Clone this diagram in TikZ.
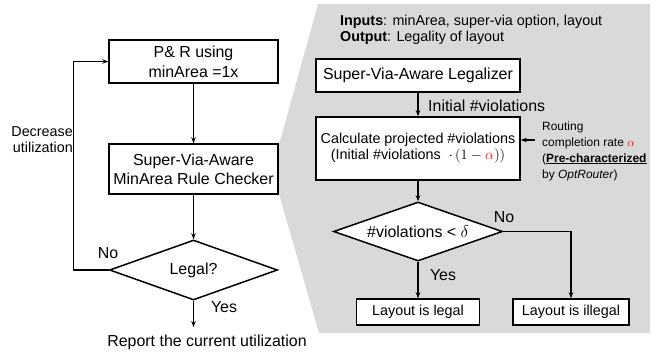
\documentclass[tikz,border=0pt]{standalone}
\usepackage{fontspec}
\setmainfont{Liberation Sans}
\usetikzlibrary{shapes.geometric,arrows.meta}
\definecolor{panelgray}{HTML}{D9D9D9}
\newcommand\szL{\fontsize{16}{19}\selectfont}
\newcommand\szLL{\fontsize{16}{20}\selectfont}
\newcommand\szM{\fontsize{14.4}{16}\selectfont}
\newcommand\szS{\fontsize{12}{16}\selectfont}
\begin{document}
\begin{tikzpicture}[x=1bp,y=-1bp,
  box/.style={draw, line width=1.5bp, fill=white, inner sep=0pt, align=center},
  dia/.style={diamond, draw, line width=1.5bp, fill=white, aspect=2.8, inner sep=0pt},
  arr/.style={-{Stealth[length=6bp,width=4.5bp]}, line width=1.3bp},
  lbl/.style={inner sep=0pt}]
\useasboundingbox (0,0) rectangle (661,351);
\fill[panelgray] (318,4) -- (650,4) -- (650,333) -- (319,333) -- (279,194) -- (279,145) -- cycle;

% left flow
\node[box, minimum width=169bp, minimum height=43bp, font=\szLL] (pr) at (193.5,61.5) {P\& R using\\minArea =1x};
\node[box, minimum width=169bp, minimum height=50bp, font=\szL] (chk) at (193.5,169) {Super-Via-Aware\\MinArea Rule Checker};
\node[dia, minimum width=168bp, minimum height=60bp, font=\szL] (lg) at (193.5,270) {Legal?};
\node[lbl, font=\szL] (rep) at (207,342) {Report the current utilization};
\coordinate (repin) at (193.5,327);
\draw[arr] (pr) -- (chk);
\draw[arr] (chk) -- (lg);
\draw[arr] (lg.south) -- (repin);
\draw[arr] (lg.west) -- ++(-35,0) |- (pr.west);
\node[lbl, font=\szL] (no1) at (108,253) {No};
\node[lbl, font=\szL] (yes1) at (224,307) {Yes};
\node[lbl, font=\szM, align=right, anchor=east] (decr) at (73,139.5) {Decrease\\utilization};

% right panel
\node[lbl, font=\szM, anchor=west] (inp) at (340,22) {\textbf{Inputs}: minArea, super-via option, layout};
\node[lbl, font=\szM, anchor=west] (outp) at (340,38) {\textbf{Output}: Legality of layout};
\node[box, minimum width=204bp, minimum height=33bp, font=\szL] (leg) at (418,75.5) {Super-Via-Aware Legalizer};
\node[box, minimum width=204bp, minimum height=63bp, font=\szM] (calc) at (418,148.5) {Calculate projected \#violations\\(Initial \#violations~~$\cdot\,(1-\textcolor{red}{\alpha}))$};
\draw[arr] (leg) -- (calc);
\node[lbl, font=\szL, anchor=west] (initv) at (428,106) {Initial \#violations};
\node[lbl, font=\szS, align=left, anchor=west] (ann) at (542,151) {Routing\\completion rate $\textcolor{red}{\alpha}$\\(\textbf{\underline{Pre-characterized}}\\by \textit{OptRouter})};
\coordinate (annpt) at (535,140);
\draw[arr] (annpt) -- (annpt -| calc.east);

\node[dia, minimum width=169bp, minimum height=59bp, font=\szL] (vd) at (418,231.5) {\#violations < $\delta$};
\node[box, minimum width=123bp, minimum height=26bp, font=\szM] (ok) at (418,312) {Layout is legal};
\node[box, minimum width=116bp, minimum height=26bp, font=\szM] (bad) at (571,312) {Layout is illegal};
\draw[arr] (calc) -- (vd);
\draw[arr] (vd) -- (ok);
\draw[arr] (vd.east) -| (bad.north);
\node[lbl, font=\szL] (yes2) at (443,275) {Yes};
\node[lbl, font=\szL] (no2) at (504,217) {No};
\end{tikzpicture}
\end{document}
